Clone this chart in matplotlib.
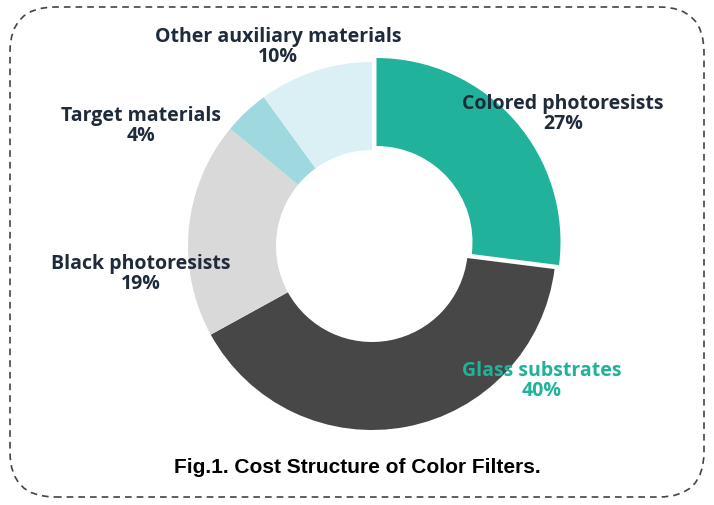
import matplotlib.pyplot as plt
from matplotlib.patches import FancyBboxPatch

labels = ["Colored photoresists", "Glass substrates", "Black photoresists", "Target materials", "Other auxiliary materials"]
values = [27, 40, 19, 4, 10]
colors = ["#20B29A", "#474747", "#D9D9D9", "#A0D8E0", "#DAF0F5"]
explode = [6, 0, 0, 0, 0]

fig = plt.figure(figsize=(7.14, 5.06), dpi=100)
ax = fig.add_axes([0, 0, 1, 1])

# dashed rounded frame
frame = FancyBboxPatch((10, 8), 694, 490, boxstyle="round,pad=0,rounding_size=45",
                       fill=False, ls=(0, (4, 3)), lw=1.2, ec="#444444")
ax.add_patch(frame)

ax.pie(values, colors=colors, startangle=90, counterclock=False, center=(372, 259),
       radius=184, explode=explode, wedgeprops=dict(width=88, edgecolor="none"),
       frame=True)
ax.set_xlim(0, 714)
ax.set_ylim(0, 506)
ax.set_aspect("equal")
ax.axis("off")

navy = "#1F2A3A"
txt = dict(fontsize=14, fontweight="bold", family="Open Sans", ha="center", va="center", linespacing=1.0)
pos = [(563, 392), (542, 125), (141, 232), (141, 380), (278, 459)]
for (x, y), lab, v in zip(pos, labels, values):
    c = "#20B29A" if lab == "Glass substrates" else navy
    ax.text(x, y, f"{lab}\n{v}%", color=c, **txt)

ax.text(357, 38, "Fig.1. Cost Structure of Color Filters.", fontsize=15, fontweight="bold",
        family="Liberation Sans", ha="center", va="center", color="black")

fig.savefig("out.png", dpi=100)
